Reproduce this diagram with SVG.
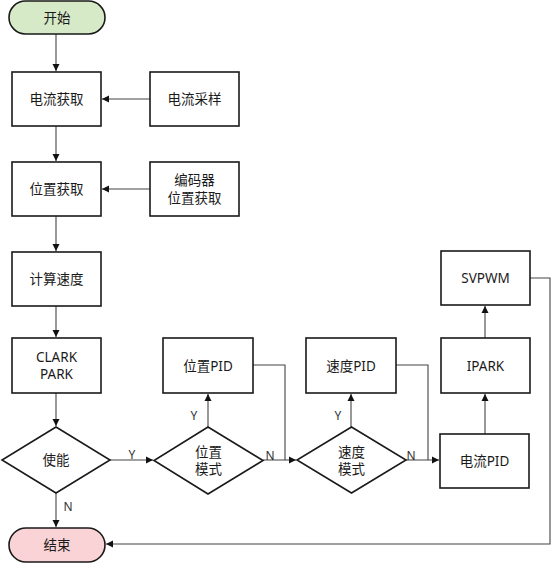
<svg xmlns="http://www.w3.org/2000/svg" width="554" height="564" viewBox="0 0 554 564">
<style>
.box{fill:#fff;stroke:#1a1a1a;stroke-width:1.6}
.dia{fill:#fff;stroke:#1a1a1a;stroke-width:1.6}
.t{font-family:"Noto Sans","Noto Sans CJK SC",sans-serif;font-size:13.5px;fill:#1a1a1a;text-anchor:middle;dominant-baseline:central}
.lbl{font-family:"Noto Sans",sans-serif;font-size:12px;fill:#333;text-anchor:middle;dominant-baseline:central}
.c{fill:none;stroke:#444;stroke-width:1.1}
</style>
<defs>
<marker id="ah" markerWidth="8" markerHeight="8" refX="7" refY="4" orient="auto" markerUnits="userSpaceOnUse">
<path d="M0,0.5 L7,4 L0,7.5 Z" fill="#111"/>
</marker>
</defs>
<rect width="554" height="564" fill="#fff"/>
<g id="connectors">
<path class="c" d="M56,34 V71" marker-end="url(#ah)"/>
<path class="c" d="M150,99 H102" marker-end="url(#ah)"/>
<path class="c" d="M56,126 V161" marker-end="url(#ah)"/>
<path class="c" d="M150,189 H102" marker-end="url(#ah)"/>
<path class="c" d="M56,216 V251" marker-end="url(#ah)"/>
<path class="c" d="M56,306 V337" marker-end="url(#ah)"/>
<path class="c" d="M56,393 V426" marker-end="url(#ah)"/>
<path class="c" d="M56,493 V527" marker-end="url(#ah)"/>
<path class="c" d="M110,460 H153" marker-end="url(#ah)"/>
<path class="c" d="M208,427 V394" marker-end="url(#ah)"/>
<path class="c" d="M253,365 H285 V460"/>
<path class="c" d="M263,460 H296" marker-end="url(#ah)"/>
<path class="c" d="M351,427 V394" marker-end="url(#ah)"/>
<path class="c" d="M396,365 H428 V460"/>
<path class="c" d="M406,460 H439" marker-end="url(#ah)"/>
<path class="c" d="M485,434 V394" marker-end="url(#ah)"/>
<path class="c" d="M485,338 V306" marker-end="url(#ah)"/>
<path class="c" d="M530,278 H550 V544 H106" marker-end="url(#ah)"/>
<text class="lbl" x="132" y="454">Y</text>
<text class="lbl" x="68" y="506">N</text>
<text class="lbl" x="194" y="415">Y</text>
<text class="lbl" x="270" y="455">N</text>
<text class="lbl" x="338" y="415">Y</text>
<text class="lbl" x="411" y="455">N</text>
</g>
<g id="start"><rect x="9" y="1" width="96" height="33" rx="16.5" fill="#d6eac8" stroke="#1a1a1a" stroke-width="1.6"/><text class="t" x="57" y="17.5">开始</text></g>
<g id="n_iget"><rect class="box" x="12" y="72" width="89" height="54"/><text class="t" x="56.5" y="99">电流获取</text></g>
<g id="n_isample"><rect class="box" x="150" y="72" width="89" height="54"/><text class="t" x="194.5" y="99">电流采样</text></g>
<g id="n_pget"><rect class="box" x="12" y="162" width="89" height="54"/><text class="t" x="56.5" y="189">位置获取</text></g>
<g id="n_enc"><rect class="box" x="150" y="162" width="89" height="54"/><text class="t" x="194.5" y="180">编码器</text><text class="t" x="194.5" y="198">位置获取</text></g>
<g id="n_speed"><rect class="box" x="12" y="252" width="89" height="54"/><text class="t" x="56.5" y="279">计算速度</text></g>
<g id="n_clark"><rect class="box" x="12" y="338" width="89" height="55"/><text class="t" x="56.5" y="357">CLARK</text><text class="t" x="56.5" y="374">PARK</text></g>
<g id="d_en"><polygon class="dia" points="56,427 110,460 56,493 2,460"/><text class="t" x="56" y="460">使能</text></g>
<g id="d_pos"><polygon class="dia" points="208,427 263,460.5 208,494 154,460.5"/><text class="t" x="208.5" y="452">位置</text><text class="t" x="208.5" y="469">模式</text></g>
<g id="n_ppid"><rect class="box" x="163" y="338" width="90" height="55"/><text class="t" x="208" y="365.5">位置PID</text></g>
<g id="d_spd"><polygon class="dia" points="351.5,427 406,460 351.5,493 297,460"/><text class="t" x="351.5" y="452">速度</text><text class="t" x="351.5" y="469">模式</text></g>
<g id="n_spid"><rect class="box" x="306" y="338" width="90" height="55"/><text class="t" x="351" y="365.5">速度PID</text></g>
<g id="n_ipid"><rect class="box" x="440" y="434" width="89" height="54"/><text class="t" x="484.5" y="461">电流PID</text></g>
<g id="n_ipark"><rect class="box" x="441" y="338" width="89" height="55"/><text class="t" x="485.5" y="365.5">IPARK</text></g>
<g id="n_svpwm"><rect class="box" x="441" y="251" width="89" height="54"/><text class="t" x="485.5" y="278">SVPWM</text></g>
<g id="end"><rect x="9" y="528" width="96" height="34" rx="17" fill="#f9d3d5" stroke="#1a1a1a" stroke-width="1.6"/><text class="t" x="57" y="545">结束</text></g>
</svg>
